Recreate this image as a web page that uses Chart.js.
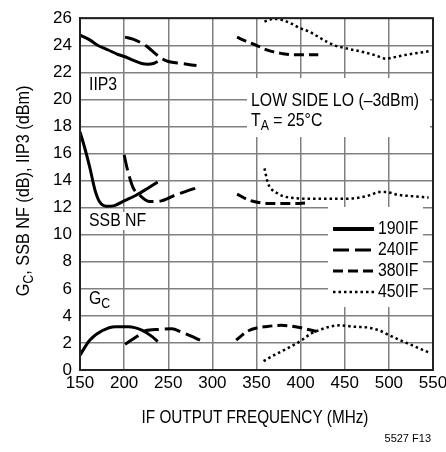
<!DOCTYPE html>
<html>
<head>
<meta charset="utf-8">
<script src="https://cdn.jsdelivr.net/npm/chart.js@4.4.0/dist/chart.umd.min.js"></script>
<style>
  html, body { margin: 0; padding: 0; background: #fff; }
</style>
</head>
<body>
<canvas id="chart" width="446" height="452"></canvas>
<script>
// series names (IF frequency)
const seriesNames = ['190IF', '240IF', '380IF', '450IF'];

// [MHz, value]
const iip3_190 = [[150,24.75],[155,24.6],[161,24.4],[170,24.0],[182,23.65],[192,23.35],[201,23.15],[210,22.9],[220,22.65],[227,22.6],[233,22.65],[238,22.8]];
const nf_190   = [[150,17.6],[155,16.5],[161,15.0],[167,13.3],[172,12.45],[180,12.1],[189,12.15],[200,12.5],[213,12.9],[226,13.4],[238,13.9]];
const gc_190   = [[150,1.1],[161,2.2],[175,2.9],[190,3.2],[205,3.2],[220,2.95],[231,2.5],[238,2.1]];

const iip3_240 = [[201,24.6],[210,24.45],[220,24.15],[228,23.8],[235,23.4],[243,23.0],[250,22.8],[265,22.65],[282,22.5]];
const nf_240   = [[200,15.9],[204,14.75],[210,13.5],[218,12.9],[229,12.45],[242,12.5],[257,12.9],[270,13.2],[284,13.5]];
const gc_240   = [[201,1.9],[214,2.45],[224,2.9],[239,3.0],[254,3.05],[265,2.8],[276,2.5],[286,2.2]];

const iip3_380 = [[328,24.6],[338,24.3],[348,24.05],[358,23.75],[367,23.55],[378,23.4],[390,23.3],[405,23.3],[420,23.3]];
const nf_380   = [[328,13.0],[340,12.6],[351,12.4],[365,12.3],[380,12.3],[395,12.3],[405,12.35]];
const gc_380   = [[327,2.2],[334,2.6],[341,2.9],[350,3.1],[360,3.2],[378,3.3],[394,3.2],[405,3.05],[418,2.85]];

const iip3_450 = [[359,25.75],[365,25.9],[371,25.95],[380,25.85],[388,25.65],[400,25.25],[410,25.0],[418,24.7],[430,24.25],[440,23.95],[450,23.8],[460,23.65],[471,23.5],[485,23.25],[497,23.0],[505,23.1],[520,23.3],[535,23.45],[545,23.55]];
const nf_450   = [[359,14.9],[363,13.8],[368,13.3],[374,13.05],[380,12.85],[395,12.7],[410,12.65],[430,12.65],[450,12.65],[467,12.75],[480,12.95],[488,13.15],[497,13.15],[510,12.95],[525,12.85],[545,12.75]];
const gc_450   = [[358,0.65],[370,1.1],[385,1.6],[400,2.15],[412,2.7],[422,2.97],[433,3.2],[445,3.3],[460,3.2],[475,3.15],[490,2.9],[501,2.55],[520,2.0],[545,1.3]];

const curves = [
    [iip3_190, nf_190, gc_190],
    [iip3_240, nf_240, gc_240],
    [iip3_380, nf_380, gc_380],
    [iip3_450, nf_450, gc_450]
];

const FONT = '"Liberation Sans Narrow", "Arial Narrow", "Liberation Sans", Arial, sans-serif';

// line style for each series
const styles = [
    { dash: [], width: 3 },
    { dash: [16, 6], width: 3 },
    { dash: [10, 5], width: 3 },
    { dash: [2.5, 3], width: 2.5 }
];

const datasets = [];
curves.forEach(function (group, i) {
    group.forEach(function (pts) {
        datasets.push({
            label: seriesNames[i],
            data: pts.map(p => ({ x: p[0], y: p[1] })),
            borderColor: '#000',
            borderWidth: styles[i].width,
            borderDash: styles[i].dash,
            pointRadius: 0,
            fill: false,
            tension: 0.4,
            cubicInterpolationMode: 'monotone'
        });
    });
});

// condensed text helper (no narrow font installed)
function narrowText(ctx, str, x, y, size, sx) {
    ctx.save();
    ctx.font = size + 'px ' + FONT;
    ctx.translate(x, y);
    ctx.scale(sx, 1);
    ctx.fillText(str, 0, 0);
    const w = ctx.measureText(str).width * sx;
    ctx.restore();
    return w;
}
function textWidth(ctx, str, size, sx) {
    ctx.save();
    ctx.font = size + 'px ' + FONT;
    const w = ctx.measureText(str).width * sx;
    ctx.restore();
    return w;
}

const SX = 0.88;

// texts, white boxes and legend drawn on the plot
const overlay = {
    id: 'overlay',
    beforeDatasetsDraw(chart) {
        const ctx = chart.ctx;
        ctx.save();
        ctx.fillStyle = '#fff';
        ctx.fillRect(247, 78, 183, 59);   // LOW SIDE LO box
        ctx.fillRect(86, 212, 62, 18);    // SSB NF label
        ctx.fillRect(328, 207, 95, 100);  // legend
        ctx.restore();
    },
    afterDatasetsDraw(chart) {
        const ctx = chart.ctx;
        const a = chart.chartArea;
        ctx.save();
        // frame top/right
        ctx.strokeStyle = '#222';
        ctx.lineWidth = 2;
        ctx.strokeRect(a.left, a.top, a.right - a.left, a.bottom - a.top);

        ctx.fillStyle = '#000';
        ctx.textBaseline = 'middle';
        ctx.textAlign = 'left';
        narrowText(ctx, 'IIP3', 89, 85, 18, SX);
        narrowText(ctx, 'SSB NF', 89, 221, 18, SX);
        let w = narrowText(ctx, 'G', 89, 299, 18, SX);
        narrowText(ctx, 'C', 89 + w, 304, 14, SX);

        narrowText(ctx, 'LOW SIDE LO (\u20133dBm)', 251, 101, 18, SX);
        w = narrowText(ctx, 'T', 251, 121, 18, SX);
        w += narrowText(ctx, 'A', 251 + w, 126, 14, SX);
        narrowText(ctx, ' = 25\u00B0C', 251 + w, 121, 18, SX);

        // legend
        const rows = [229, 250, 271, 292];
        seriesNames.forEach(function (name, i) {
            ctx.beginPath();
            ctx.setLineDash(styles[i].dash);
            ctx.lineWidth = i === 0 ? 4 : styles[i].width;
            ctx.strokeStyle = '#000';
            ctx.moveTo(333, rows[i]);
            ctx.lineTo(374, rows[i]);
            ctx.stroke();
            ctx.setLineDash([]);
            narrowText(ctx, name, 378, rows[i], 18, SX);
        });

        // x axis title
        const xt = 'IF OUTPUT FREQUENCY (MHz)';
        narrowText(ctx, xt, 255 - textWidth(ctx, xt, 18, 0.85) / 2, 418, 18, 0.85);

        // y axis title with subscript
        ctx.save();
        ctx.translate(24, 191);
        ctx.rotate(-Math.PI / 2);
        const main = ', SSB NF (dB), IIP3 (dBm)';
        const total = textWidth(ctx, 'G', 18, 0.9) + textWidth(ctx, 'C', 14, 0.9) + textWidth(ctx, main, 18, 0.9);
        let px = -total / 2;
        px += narrowText(ctx, 'G', px, 0, 18, 0.9);
        px += narrowText(ctx, 'C', px, 5, 14, 0.9);
        narrowText(ctx, main, px, 0, 18, 0.9);
        ctx.restore();

        ctx.font = '11px "Liberation Sans", sans-serif';
        ctx.textAlign = 'right';
        ctx.fillText('5527 F13', 431, 439);
        ctx.restore();
    }
};

const ctx = document.getElementById('chart').getContext('2d');
new Chart(ctx, {
    type: 'line',
    data: { datasets: datasets },
    plugins: [overlay],
    options: {
        responsive: false,
        devicePixelRatio: 1,
        animation: false,
        layout: { padding: { top: 18, right: 13, left: 0, bottom: 0 } },
        plugins: {
            legend: { display: false },
            tooltip: { enabled: false }
        },
        scales: {
            x: {
                type: 'linear',
                min: 150,
                max: 550,
                ticks: { stepSize: 50, padding: 3, color: '#000', font: { family: FONT, size: 17 } },
                grid: { color: '#808080', lineWidth: 1.5, drawTicks: false },
                border: { color: '#222', width: 2 },
                afterFit: function (s) {
                    s.height = 82;
                    s.paddingRight = 13;
                }
            },
            y: {
                min: 0,
                max: 26,
                ticks: { stepSize: 2, padding: 8, color: '#000', font: { family: FONT, size: 17 } },
                grid: { color: '#808080', lineWidth: 1.5, drawTicks: false },
                border: { color: '#222', width: 2 },
                afterFit: function (s) { s.width = 80; }
            }
        }
    }
});
</script>
</body>
</html>
